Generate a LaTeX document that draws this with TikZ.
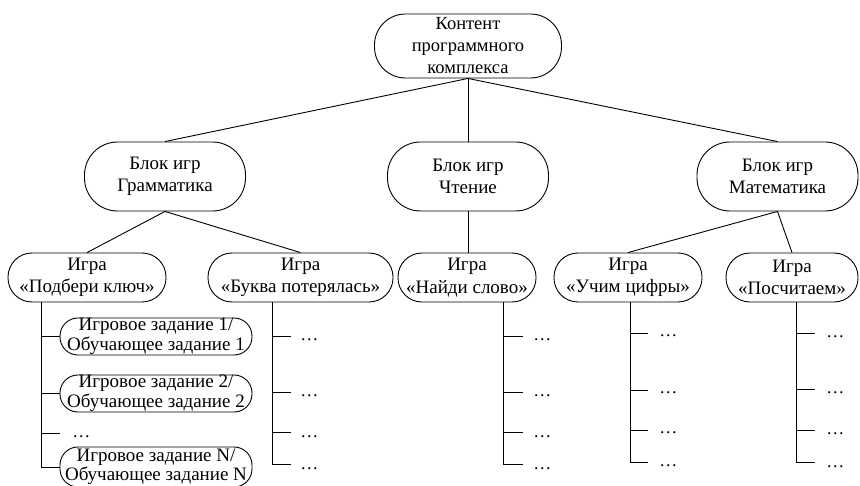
\documentclass[tikz,border=0pt]{standalone}
\usepackage{fontspec}
\setmainfont{Liberation Serif}
\begin{document}
\begin{tikzpicture}[x=1pt,y=-1pt,line width=0.9pt,
  box/.style={draw, line width=0.9pt, rounded corners=#1, align=center, inner sep=0pt},
  lvl0/.style={box=31, minimum width=187, minimum height=64, font=\fontsize{18.5}{22}\selectfont},
  lvl1/.style={box=33, minimum width=161, minimum height=69, font=\fontsize{19}{22}\selectfont},
  lvl2/.style={box=24, minimum height=49, font=\fontsize{19}{22.5}\selectfont},
  task/.style={box=18, minimum width=192, minimum height=37, font=\fontsize{19}{19.5}\selectfont},
  dots/.style={anchor=base west, inner sep=0pt, font=\fontsize{18}{20}\selectfont}]
\useasboundingbox (0,0) rectangle (860,486);
\clip (0,0) rectangle (860,486);

% root and blocks
\node[lvl0] (root) at (468,46) {Контент\\программного\\комплекса};
\node[lvl1] (gram) at (165,176.5) {Блок игр\\Грамматика};
\node[lvl1] (read) at (468,176.5) {Блок игр\\Чтение};
\node[lvl1] (math) at (777.5,176.5) {Блок игр\\Математика};

% games
\node[lvl2, minimum width=158] (g1) at (87,277.5) {Игра\\«Подбери ключ»};
\node[lvl2, minimum width=185] (g2) at (300.5,277.5) {Игра\\«Буква потерялась»};
\node[lvl2, minimum width=138] (g3) at (467,277.5) {Игра\\«Найди слово»};
\node[lvl2, minimum width=148] (g4) at (628,277.5) {Игра\\«Учим цифры»};
\node[lvl2, minimum width=132] (g5) at (792,277.5) {Игра\\«Посчитаем»};

\draw (root.south) -- (gram.north);
\draw (root.south) -- (read.north);
\draw (root.south) -- (math.north);
\draw (gram.south) -- (g1.north);
\draw (gram.south) -- (g2.north);
\draw (read.south) -- (g3.north -| read.south);
\draw (math.south) -- (g4.north);
\draw (math.south) -- (g5.north);

% tasks of game 1
\node[task] (t1) at (156,336.5) {Игровое задание 1/\\Обучающее задание 1};
\node[task] (t2) at (156,393.5) {Игровое задание 2/\\Обучающее задание 2};
\node[task, minimum height=40] (tN) at (156,467) {Игровое задание N/\\Обучающее задание N};
\coordinate (v1) at (41,0);
\coordinate (k1) at (60,433);
\node[dots] (k1d) at (72,438) {…};
\draw (v1 |- g1.south) -- (v1 |- tN.west);
\draw (v1 |- t1.west) -- (t1.west);
\draw (v1 |- t2.west) -- (t2.west);
\draw (v1 |- k1) -- (k1);
\draw (v1 |- tN.west) -- (tN.west);

% game 2
\coordinate (v2) at (272,0);
\foreach \y [count=\i] in {336,392,432,464} {
  \coordinate (b\i) at (291,\y);
  \draw (v2 |- b\i) -- (b\i);
  \node[dots] (bd\i) at (300,\y+5) {…};
}
\draw (v2 |- g2.south) -- (v2 |- b4);

% game 3
\coordinate (v3) at (503,0);
\foreach \y [count=\i] in {336,392,432,464} {
  \coordinate (c\i) at (523,\y);
  \draw (v3 |- c\i) -- (c\i);
  \node[dots] (cd\i) at (533,\y+5) {…};
}
\draw (v3 |- g3.south) -- (v3 |- c4);

% game 4
\coordinate (v4) at (630,0);
\foreach \y [count=\i] in {333,390,430,462} {
  \coordinate (e\i) at (648,\y);
  \draw (v4 |- e\i) -- (e\i);
  \node[dots] (ed\i) at (659,\y+4) {…};
}
\draw (v4 |- g4.south) -- (v4 |- e4);

% game 5
\coordinate (v5) at (796,0);
\foreach \y [count=\i] in {333,389,430,462} {
  \coordinate (f\i) at (815,\y);
  \draw (v5 |- f\i) -- (f\i);
  \node[dots] (fd\i) at (826,\y+5) {…};
}
\draw (v5 |- g5.south) -- (v5 |- f4);
\end{tikzpicture}
\end{document}
